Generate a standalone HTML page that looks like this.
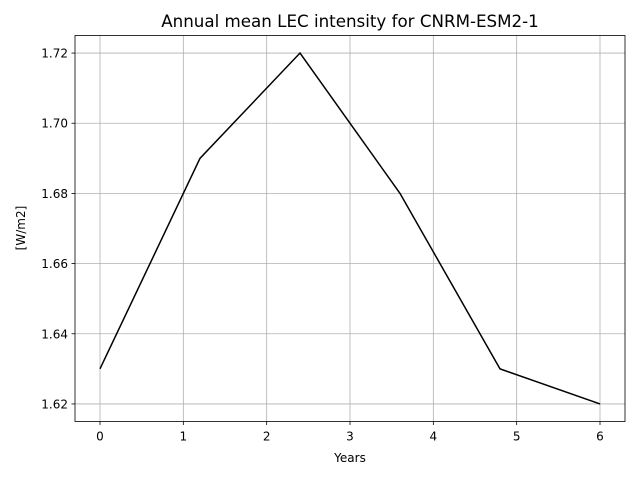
<!DOCTYPE html>
<html><head><meta charset="utf-8"><style>
body{margin:0;background:#fff;}
svg text{font-family:"DejaVu Sans","Liberation Sans",sans-serif;}
</style></head><body>
<svg id="chart" width="640" height="480" viewBox="0 0 640 480" xmlns="http://www.w3.org/2000/svg">
<rect width="640" height="480" fill="#fff"/>
<g id="grid"></g>
<g id="ticks"></g>
<polyline id="line" fill="none" stroke="#000" stroke-width="1.5"/>
<rect x="75" y="35.5" width="550" height="386" fill="none" stroke="#000" stroke-width="0.8"/>
<text x="350" y="27" font-size="16.7" text-anchor="middle">Annual mean LEC intensity for CNRM-ESM2-1</text>
<text x="350" y="462" font-size="12" text-anchor="middle">Years</text>
<text x="25" y="228" font-size="12" text-anchor="middle" transform="rotate(-90 25 228)">[W/m2]</text>
</svg>
<script>
const xValues=[0,1.2,2.4,3.6,4.8,6];
const yValues=[1.63,1.69,1.72,1.68,1.63,1.62];
const xTicks=[0,1,2,3,4,5,6];
const yTicks=[1.62,1.64,1.66,1.68,1.70,1.72];
const L=75,R=625,T=35.5,B=421.5,xmin=-0.3,xmax=6.3,ymin=1.615,ymax=1.725;
const sx=v=>L+(v-xmin)/(xmax-xmin)*(R-L);
const sy=v=>B-(v-ymin)/(ymax-ymin)*(B-T);
const NS="http://www.w3.org/2000/svg";
const grid=document.getElementById('grid'),ticks=document.getElementById('ticks');
function mk(tag,attrs,parent){const e=document.createElementNS(NS,tag);for(const k in attrs)e.setAttribute(k,attrs[k]);parent.appendChild(e);return e;}
xTicks.forEach(t=>{const x=sx(t);
 const g=mk('line',{x1:x,x2:x,y1:T,y2:B,stroke:'#b0b0b0','stroke-width':0.8},grid);
 
 
 mk('line',{x1:x,x2:x,y1:B,y2:B+3.5,stroke:'#000','stroke-width':0.8},ticks);
 const tx=mk('text',{x:x,y:B+19,'font-size':12,'text-anchor':'middle'},ticks);tx.textContent=t;
 
 
});
yTicks.forEach(t=>{const y=sy(t);
 const g=mk('line',{x1:L,x2:R,y1:y,y2:y,stroke:'#b0b0b0','stroke-width':0.8},grid);
 
 
 mk('line',{x1:L-3.5,x2:L,y1:y,y2:y,stroke:'#000','stroke-width':0.8},ticks);
 const tx=mk('text',{x:L-7,y:y+4.5,'font-size':12,'text-anchor':'end'},ticks);tx.textContent=t.toFixed(2);
 
 
});
document.getElementById('line').setAttribute('points',xValues.map((x,i)=>sx(x)+','+sy(yValues[i])).join(' '));
</script>
</body></html>
